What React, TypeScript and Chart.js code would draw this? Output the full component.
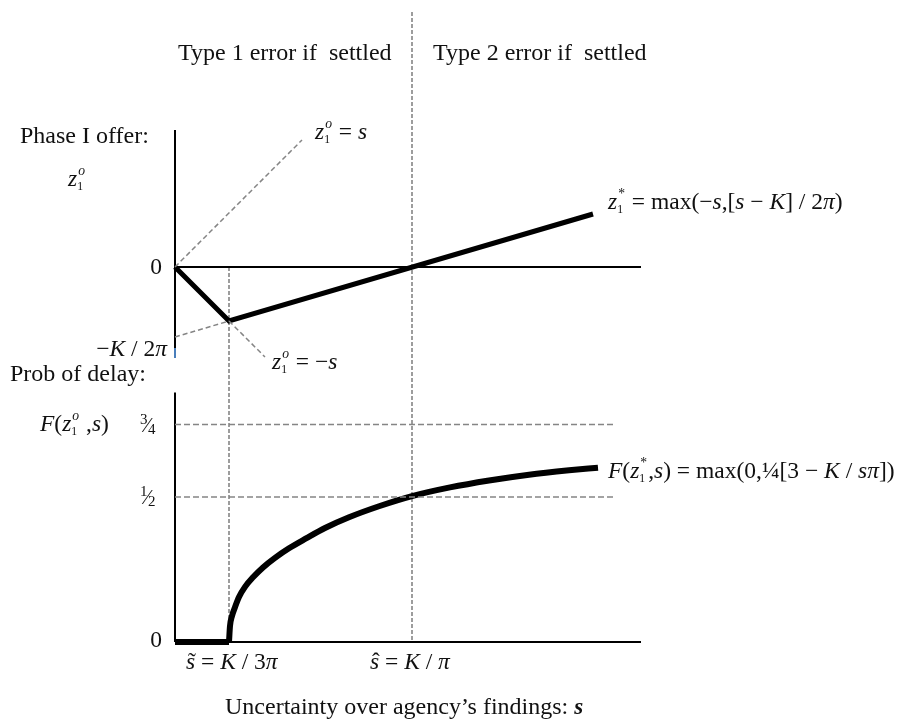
import React, { useEffect, useRef } from "react";
import { Chart, registerables } from "chart.js";

Chart.register(...registerables);

// ---- data (diagram units: s on x, origin at 0) ----
const S_TILDE = 54; // s~ = K/3pi
const S_HAT = 237; // s^ = K/pi
const S_AXIS_END = 466;
const GUIDE_TOP_Z = 255;

// top panel: Phase I offer z
const zAxisS = [0, 0];
const zAxisZ = [137, -81];
const zAxisTipZ = [-81, -91];
const zeroLineS = [0, S_AXIS_END];
const zeroLineZ = [0, 0];
const zEqSS = [0, 127];
const zEqSZ = [0, 127];
const zEqMinusSS = [54, 90];
const zEqMinusSZ = [-54, -90];
const zExtS = [0, 54];
const zExtZ = [-70, -54];
const zStarS = [0, 54, 418];
const zStarZ = [0, -54, 53];

// bottom panel: probability of delay F
const fAxisTop = 0.86;
const fGuideLevels = [0.75, 0.5];
const fGuideLabels = [["3", "4"], ["1", "2"]];
const fGuideEnd = 438;
const fFlatS = [0, 54];
const fFlatF = [0, 0];
const fCurveS = [54, 55, 57, 60, 64, 70, 78, 88, 100, 114, 131, 150, 174, 204, 237, 275, 314, 354, 394, 423];
const fCurveF = [0, 0.055, 0.09, 0.12, 0.155, 0.19, 0.223, 0.257, 0.29, 0.323, 0.357, 0.393, 0.43, 0.468, 0.503, 0.533, 0.557, 0.577, 0.592, 0.601];

const FONT = '"Liberation Serif", "Times New Roman", serif';
const GRAY = "#858585";

const pts = (xs: number[], ys: number[]) => xs.map((x, i) => ({ x, y: ys[i] }));

type Piece = { t: string; it?: boolean; sub?: string; sup?: string; supIt?: boolean; acc?: string };

function drawMath(ctx: CanvasRenderingContext2D, pieces: Piece[], x: number, y: number, size: number, align: "left" | "right" = "left") {
  const measure = () => {
    let w = 0;
    for (const p of pieces) {
      ctx.font = `${p.it ? "italic " : ""}${size}px ${FONT}`;
      w += ctx.measureText(p.t).width;
      if (p.sub || p.sup) {
        let ew = 0;
        if (p.sup) {
          ctx.font = `${p.supIt ? "italic " : ""}${size * 0.58}px ${FONT}`;
          ew = Math.max(ew, ctx.measureText(p.sup).width + 1);
        }
        if (p.sub) {
          ctx.font = `${size * 0.5}px ${FONT}`;
          ew = Math.max(ew, ctx.measureText(p.sub).width);
        }
        w += ew + 1;
      }
    }
    return w;
  };
  let cx = align === "right" ? x - measure() : x;
  ctx.textBaseline = "alphabetic";
  ctx.textAlign = "left";
  for (const p of pieces) {
    ctx.font = `${p.it ? "italic " : ""}${size}px ${FONT}`;
    ctx.fillText(p.t, cx, y);
    const w = ctx.measureText(p.t).width;
    if (p.acc) {
      ctx.font = `${size}px ${FONT}`;
      const aw = ctx.measureText(p.acc).width;
      ctx.fillText(p.acc, cx + w / 2 - aw / 2 + size * 0.06, y - size * 0.02);
    }
    cx += w;
    if (p.sub || p.sup) {
      let ew = 0;
      if (p.sup) {
        ctx.font = `${p.supIt ? "italic " : ""}${size * 0.58}px ${FONT}`;
        ctx.fillText(p.sup, cx + 1, y - size * 0.45);
        ew = Math.max(ew, ctx.measureText(p.sup).width + 1);
      }
      if (p.sub) {
        ctx.font = `${size * 0.5}px ${FONT}`;
        ctx.fillText(p.sub, cx, y + size * 0.16);
        ew = Math.max(ew, ctx.measureText(p.sub).width);
      }
      cx += ew + 1;
    }
  }
}

function drawText(ctx: CanvasRenderingContext2D, text: string, x: number, y: number, size: number) {
  ctx.font = `${size}px ${FONT}`;
  ctx.textAlign = "left";
  ctx.textBaseline = "alphabetic";
  ctx.fillText(text, x, y);
  return ctx.measureText(text).width;
}

function drawFraction(ctx: CanvasRenderingContext2D, num: string, den: string, x: number, yMid: number) {
  ctx.textBaseline = "alphabetic";
  ctx.textAlign = "left";
  ctx.font = `15px ${FONT}`;
  ctx.fillText(num, x, yMid - 1);
  const nw = ctx.measureText(num).width;
  ctx.font = `21px ${FONT}`;
  ctx.fillText("\u2044", x + nw - 2, yMid + 7);
  const sw = ctx.measureText("\u2044").width;
  ctx.font = `15px ${FONT}`;
  ctx.fillText(den, x + nw + sw - 3, yMid + 9);
}

const guidesPlugin = {
  id: "guides",
  beforeDatasetsDraw(chart: any) {
    const { ctx } = chart;
    const xs = chart.scales.x;
    const yz = chart.scales.yz;
    const yf = chart.scales.yf;
    ctx.save();
    ctx.strokeStyle = GRAY;
    ctx.lineWidth = 1.6;
    ctx.setLineDash([4, 2]);
    const bottom = yf.getPixelForValue(0);
    const xt = xs.getPixelForValue(S_TILDE);
    ctx.beginPath();
    ctx.moveTo(xt, yz.getPixelForValue(0));
    ctx.lineTo(xt, bottom);
    ctx.stroke();
    const xh = xs.getPixelForValue(S_HAT);
    ctx.beginPath();
    ctx.moveTo(xh, yz.getPixelForValue(GUIDE_TOP_Z));
    ctx.lineTo(xh, bottom);
    ctx.stroke();
    ctx.restore();
  },
};

const labelsPlugin = {
  id: "labels",
  afterDraw(chart: any) {
    const { ctx } = chart;
    const yz = chart.scales.yz;
    const yf = chart.scales.yf;
    ctx.save();
    ctx.fillStyle = "#111";
    const T = 24;
    const M = 23.5;
    drawText(ctx, "Type 1 error if  settled", 178, 60, T);
    drawText(ctx, "Type 2 error if  settled", 433, 60, T);
    drawText(ctx, "Phase I offer:", 20, 143, T);
    drawText(ctx, "Prob of delay:", 10, 381, T);
    const w = drawText(ctx, "Uncertainty over agency\u2019s findings: ", 225, 714, T);
    ctx.font = `italic bold ${T - 1}px ${FONT}`;
    ctx.fillText("s", 225 + w, 714);

    drawMath(ctx, [{ t: "z", it: true, sub: "1", sup: "o", supIt: true }], 68, 186, M);
    drawMath(ctx, [{ t: "z", it: true, sub: "1", sup: "o", supIt: true }, { t: " = " }, { t: "s", it: true }], 315, 139, M);
    drawMath(ctx, [{ t: "0" }], 162, yz.getPixelForValue(0) + 7, M, "right");
    drawMath(ctx, [{ t: "\u2212" }, { t: "K", it: true }, { t: " / 2" }, { t: "\u03c0", it: true }], 167, 356, M, "right");
    drawMath(ctx, [{ t: "z", it: true, sub: "1", sup: "o", supIt: true }, { t: " = \u2212" }, { t: "s", it: true }], 272, 369, M);
    drawMath(
      ctx,
      [
        { t: "z", it: true, sub: "1", sup: "*" },
        { t: " = max(\u2212" },
        { t: "s", it: true },
        { t: ",[" },
        { t: "s", it: true },
        { t: " \u2212 " },
        { t: "K", it: true },
        { t: "] / 2" },
        { t: "\u03c0", it: true },
        { t: ")" },
      ],
      608,
      209,
      M
    );
    drawMath(
      ctx,
      [
        { t: "F", it: true },
        { t: "(" },
        { t: "z", it: true, sub: "1", sup: "o", supIt: true },
        { t: " ," },
        { t: "s", it: true },
        { t: ")" },
      ],
      40,
      431,
      M
    );
    fGuideLevels.forEach((lv, i) => drawFraction(ctx, fGuideLabels[i][0], fGuideLabels[i][1], 140, yf.getPixelForValue(lv)));
    drawMath(ctx, [{ t: "0" }], 162, yf.getPixelForValue(0) + 5, M, "right");
    drawMath(
      ctx,
      [
        { t: "F", it: true },
        { t: "(" },
        { t: "z", it: true, sub: "1", sup: "*" },
        { t: "," },
        { t: "s", it: true },
        { t: ") = max(0,\u00bc[3 \u2212 " },
        { t: "K", it: true },
        { t: " / " },
        { t: "s\u03c0", it: true },
        { t: "])" },
      ],
      608,
      478,
      M
    );
    drawMath(ctx, [{ t: "s", it: true, acc: "\u02dc" }, { t: " = " }, { t: "K", it: true }, { t: " / 3" }, { t: "\u03c0", it: true }], 186, 669, M);
    drawMath(ctx, [{ t: "s", it: true, acc: "\u02c6" }, { t: " = " }, { t: "K", it: true }, { t: " / " }, { t: "\u03c0", it: true }], 370, 669, M);
    ctx.restore();
  },
};

function line(data: { x: number; y: number }[], axis: string, color: string, width: number, dash: number[] = [], extra: any = {}) {
  return {
    data,
    yAxisID: axis,
    showLine: true,
    borderColor: color,
    backgroundColor: color,
    borderWidth: width,
    borderDash: dash,
    pointRadius: 0,
    pointHoverRadius: 0,
    fill: false,
    borderJoinStyle: "miter",
    borderCapStyle: "butt",
    ...extra,
  };
}

export default function App() {
  const ref = useRef<HTMLCanvasElement | null>(null);
  useEffect(() => {
    if (!ref.current) return;
    const dash = [5, 3];
    const chart = new Chart(ref.current, {
      type: "scatter",
      data: {
        datasets: [
          line(pts(zEqSS, zEqSZ), "yz", GRAY, 1.5, dash),
          line(pts(zEqMinusSS, zEqMinusSZ), "yz", GRAY, 1.5, dash),
          line(pts(zExtS, zExtZ), "yz", GRAY, 1.5, dash),
          line(pts(zAxisS, zAxisZ), "yz", "#000", 2),
          line(pts([0, 0], zAxisTipZ), "yz", "#4a7ebb", 2),
          line(pts(zeroLineS, zeroLineZ), "yz", "#000", 2),
          line(pts(zStarS, zStarZ), "yz", "#000", 5),
          ...fGuideLevels.map((lv) => line(pts([0, fGuideEnd], [lv, lv]), "yf", GRAY, 1.6, [6, 3])),
          line(pts([0, 0], [0, fAxisTop]), "yf", "#000", 2),
          line(pts(zeroLineS, [0, 0]), "yf", "#000", 2),
          line(pts(fFlatS, fFlatF), "yf", "#000", 6),
          line(pts(fCurveS, fCurveF), "yf", "#000", 6, [], { cubicInterpolationMode: "monotone", borderJoinStyle: "round", borderCapStyle: "butt" }),
        ] as any,
      },
      options: {
        animation: false,
        responsive: false,
        devicePixelRatio: 1,
        layout: { padding: 0 },
        events: [],
        plugins: { legend: { display: false }, tooltip: { enabled: false }, title: { display: false } },
        scales: {
          x: { type: "linear", min: -175, max: 727, display: false },
          yz: { type: "linear", position: "left", min: -457, max: 267, display: false },
          yf: { type: "linear", position: "right", min: -82 / 290, max: 642 / 290, display: false },
        },
      },
      plugins: [guidesPlugin, labelsPlugin],
    });
    return () => chart.destroy();
  }, []);
  return (
    <div style={{ position: "fixed", left: 0, top: 0, width: 902, height: 724, background: "#fff" }}>
      <canvas ref={ref} width={902} height={724} style={{ display: "block" }} />
    </div>
  );
}
